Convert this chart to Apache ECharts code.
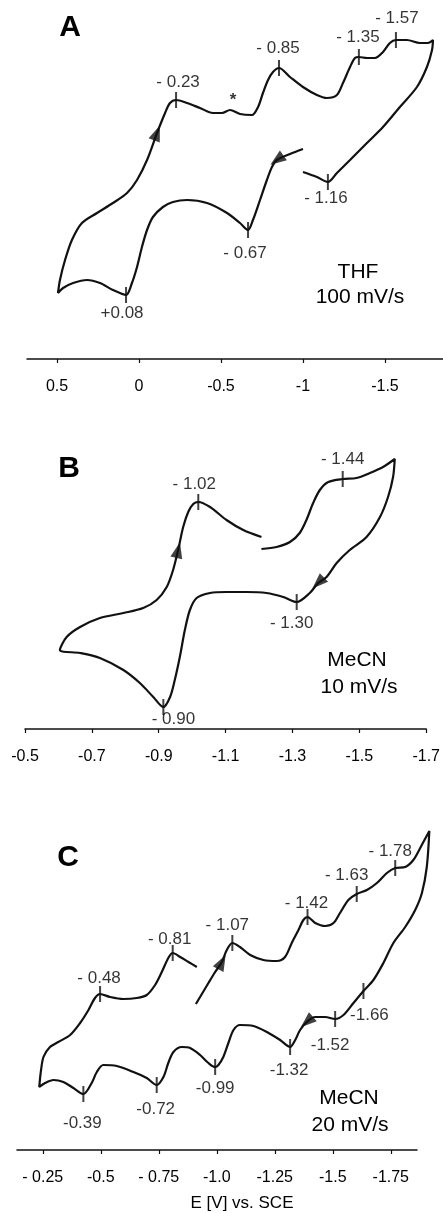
<!DOCTYPE html>
<html>
<head>
<meta charset="utf-8">
<script src="https://cdn.jsdelivr.net/npm/echarts@6/dist/echarts.min.js"></script>
<style>
  html, body { margin: 0; padding: 0; background: #fff; }
  #chart { width: 443px; height: 1213px; }
</style>
</head>
<body>
<div id="chart"></div>
<script>
// cyclic voltammograms, [E in V vs SCE, current in arb. units], in scan order

// A: THF, 100 mV/s
const cvA = [
  [-1.000,21.0],[-0.921,20.5],[-0.841,19.9],[-0.811,19.2],[-0.780,17.9],[-0.738,15.9],[-0.695,13.9],[-0.665,12.9],
  [-0.616,13.6],[-0.537,14.6],[-0.415,15.6],[-0.293,15.9],[-0.207,15.7],[-0.146,15.2],[-0.085,14.2],[-0.049,12.9],
  [-0.018,11.2],[0.012,9.2],[0.043,7.6],[0.079,6.4],[0.159,6.9],[0.238,7.6],[0.317,7.9],[0.402,7.6],
  [0.463,7.1],[0.494,6.6],[0.482,7.9],[0.451,9.9],[0.409,11.9],[0.348,13.6],[0.256,14.6],[0.159,15.6],
  [0.073,16.6],[0.012,17.9],[-0.049,19.9],[-0.110,22.6],[-0.159,24.6],[-0.189,25.6],[-0.226,25.9],[-0.293,25.6],
  [-0.372,25.1],[-0.451,24.6],[-0.506,24.6],[-0.555,24.9],[-0.616,24.5],[-0.689,24.4],[-0.726,25.2],[-0.756,26.6],
  [-0.787,27.9],[-0.817,28.7],[-0.854,29.1],[-0.921,28.2],[-1.000,27.2],[-1.085,26.4],[-1.146,26.1],[-1.207,26.4],
  [-1.244,27.6],[-1.287,29.2],[-1.317,30.1],[-1.341,30.2],[-1.390,30.1],[-1.439,30.1],[-1.488,30.7],[-1.530,31.6],
  [-1.567,31.9],[-1.634,31.9],[-1.713,31.6],[-1.762,31.6],[-1.793,31.9],[-1.787,30.9],[-1.756,29.2],[-1.695,27.2],
  [-1.591,25.2],[-1.488,23.2],[-1.390,21.6],[-1.287,19.9],[-1.207,18.6],[-1.152,17.7],[-1.085,18.2],[-1.000,18.7]
];
// peak marks: [index into curve, label]
const peaksA = [[38,'- 0.23'],[50,'- 0.85'],[59,'- 1.35'],[64,'- 1.57'],[77,'- 1.16'],[7,'- 0.67'],[19,'+0.08']];
const arrowsA = [35, 2];
const starA = [[-0.573, 25.9]];
const ticksA = [0.5, 0, -0.5, -1, -1.5];
const tickTextA = ['0.5', '0', '-0.5', '-1', '-1.5'];

// B: MeCN, 10 mV/s
const cvB = [
  [-1.204,18.0],[-1.249,18.2],[-1.289,18.7],[-1.318,19.6],[-1.338,20.9],[-1.358,22.6],[-1.378,23.9],[-1.403,24.7],
  [-1.446,25.0],[-1.487,25.1],[-1.527,25.6],[-1.566,26.2],[-1.601,27.0],[-1.596,25.2],[-1.581,23.2],[-1.557,21.2],
  [-1.517,19.2],[-1.467,17.9],[-1.428,16.6],[-1.398,15.2],[-1.373,14.6],[-1.348,13.6],[-1.309,12.7],[-1.269,13.2],
  [-1.219,13.6],[-1.160,13.7],[-1.100,13.7],[-1.051,13.6],[-1.011,13.1],[-0.991,11.9],[-0.976,9.9],[-0.961,7.2],
  [-0.946,4.9],[-0.932,3.2],[-0.912,2.2],[-0.882,3.2],[-0.842,4.6],[-0.793,5.9],[-0.723,7.1],[-0.664,7.6],
  [-0.604,7.9],[-0.624,9.2],[-0.664,10.2],[-0.723,11.1],[-0.793,11.6],[-0.852,12.1],[-0.892,12.9],[-0.922,14.2],
  [-0.941,15.9],[-0.956,17.9],[-0.971,20.2],[-0.986,21.7],[-1.001,22.5],[-1.016,22.7],[-1.051,22.2],[-1.100,20.9],
  [-1.150,19.9],[-1.204,19.2]
];
const peaksB = [[8,'- 1.44'],[53,'- 1.02'],[22,'- 1.30'],[34,'- 0.90']];
const arrowsB = [49, 20];
const ticksB = [-0.5, -0.7, -0.9, -1.1, -1.3, -1.5, -1.7];
const tickTextB = ['-0.5', '-0.7', '-0.9', '-1.1', '-1.3', '-1.5', '-1.7'];

// C: MeCN, 20 mV/s
const cvC = [
  [-0.910,14.6],[-0.928,15.3],[-0.964,16.7],[-0.993,17.8],[-1.022,18.8],[-1.043,20.0],[-1.067,20.7],[-1.100,20.3],
  [-1.144,19.5],[-1.201,19.0],[-1.259,18.9],[-1.294,19.3],[-1.323,20.7],[-1.352,22.0],[-1.373,23.0],[-1.391,23.3],
  [-1.424,22.7],[-1.467,22.4],[-1.503,22.7],[-1.531,23.7],[-1.567,25.0],[-1.603,25.6],[-1.647,26.0],[-1.690,26.7],
  [-1.733,27.7],[-1.769,28.2],[-1.812,28.3],[-1.847,29.0],[-1.879,30.3],[-1.902,31.3],[-1.916,31.9],[-1.905,28.3],
  [-1.884,25.7],[-1.855,24.0],[-1.812,22.3],[-1.761,20.7],[-1.718,18.7],[-1.675,17.0],[-1.632,15.9],[-1.589,14.7],
  [-1.546,13.5],[-1.510,13.1],[-1.467,13.3],[-1.424,13.3],[-1.388,12.8],[-1.359,12.0],[-1.338,11.0],[-1.316,10.3],
  [-1.273,11.0],[-1.216,11.8],[-1.158,12.4],[-1.100,12.5],[-1.072,12.0],[-1.050,10.7],[-1.028,9.3],[-1.007,8.5],
  [-0.993,8.3],[-0.964,8.7],[-0.928,9.5],[-0.885,10.2],[-0.849,10.3],[-0.813,9.8],[-0.791,8.7],[-0.770,7.3],
  [-0.741,6.5],[-0.698,7.2],[-0.641,7.8],[-0.569,8.4],[-0.511,8.5],[-0.483,7.8],[-0.461,6.7],[-0.425,5.6],
  [-0.382,6.2],[-0.339,6.8],[-0.296,7.0],[-0.260,6.7],[-0.235,6.3],[-0.241,7.7],[-0.253,9.3],[-0.281,10.3],
  [-0.317,10.8],[-0.368,11.5],[-0.411,12.7],[-0.447,14.0],[-0.475,15.2],[-0.497,15.6],[-0.540,15.3],[-0.597,15.1],
  [-0.655,15.2],[-0.698,15.5],[-0.734,16.5],[-0.763,17.8],[-0.791,19.2],[-0.810,19.7],[-0.842,19.3],[-0.878,18.8],
  [-0.914,18.3]
];
const peaksC = [[85,'- 0.48'],[93,'- 0.81'],[6,'- 1.07'],[15,'- 1.42'],[21,'- 1.63'],[25,'- 1.78'],
                [38,'-1.66'],[41,'-1.52'],[47,'-1.32'],[56,'-0.99'],[64,'-0.72'],[71,'-0.39']];
const arrowsC = [4, 44];
const ticksC = [-0.25, -0.5, -0.75, -1.0, -1.25, -1.5, -1.75];
const tickTextC = ['- 0.25', '-0.5', '- 0.75', '-1.0', '-1.25', '-1.5', '-1.75'];

// label placement [side, dx, dy] for each peak, same order as the peaks lists
const lblA = [['top',2,0],['top',-1,-2],['top',-1,-2],['top',1,-4],['bottom',-2,-2],['bottom',-3,5],['bottom',-4,0]];
const lblB = [['top',0,-2],['top',-4,0],['bottom',-5,3],['bottom',10,-6]];
const lblC = [['top',-1,2],['top',-3,4],['top',-5,0],['top',-1,4],['top',-10,-1],['top',-5,1],
              ['bottom',6,6],['bottom',-5,8],['bottom',-1,5],['bottom',0,3],['bottom',-1,6],['bottom',-1,11]];

const FONT = "'Liberation Sans', Arial, Helvetica, sans-serif";
const INK = '#111';

// axis: the drawn axis; plot: a hidden axis of identical scale that may run past the drawn one
const panels = [
  { curve: cvA, peaks: peaksA, lbl: lblA, arrows: arrowsA, ticks: ticksA, tickText: tickTextA,
    grid: { left: 27, right: 0, top: 9, bottom: 854 }, xmin: -1.854, xmax: 0.683, ymax: 35,
    plotRight: 0, plotMin: -1.854 },
  { curve: cvB, peaks: peaksB, lbl: lblB, arrows: arrowsB, ticks: ticksB, tickText: tickTextB,
    grid: { left: 25, right: 15, top: 429, bottom: 484 }, xmin: -1.7, xmax: -0.5, ymax: 30,
    plotRight: 15, plotMin: -1.7 },
  { curve: cvC, peaks: peaksC, lbl: lblC, arrows: arrowsC, ticks: ticksC, tickText: tickTextC,
    grid: { left: 17, right: 26, top: 800, bottom: 63 }, xmin: -1.863, xmax: -0.139, ymax: 35,
    plotRight: 6, plotMin: -1.949 }
];

const chart = echarts.init(document.getElementById('chart'));

const grids = [], xAxes = [], yAxes = [], series = [];
const N = panels.length;
panels.forEach((p, k) => {
  grids[k] = p.grid;
  grids[N + k] = Object.assign({}, p.grid, { right: p.plotRight });
  xAxes[k] = {
    type: 'value', gridIndex: k, inverse: true, min: p.xmin, max: p.xmax,
    splitLine: { show: false },
    axisLine: { show: true, lineStyle: { color: INK, width: 1.5 } },
    axisTick: { show: true, length: 4, lineStyle: { color: INK, width: 1.2 }, customValues: p.ticks },
    axisLabel: {
      customValues: p.ticks, margin: 20, color: '#000', fontSize: 16, fontFamily: FONT,
      formatter: v => {
        const j = p.ticks.findIndex(t => Math.abs(t - v) < 1e-6);
        return j >= 0 ? p.tickText[j] : '';
      }
    }
  };
  xAxes[N + k] = { type: 'value', gridIndex: N + k, inverse: true, min: p.plotMin, max: p.xmax, show: false };
  yAxes[k] = { type: 'value', gridIndex: k, min: 0, max: p.ymax, show: false };
  yAxes[N + k] = { type: 'value', gridIndex: N + k, min: 0, max: p.ymax, show: false };

  const g = N + k;
  series.push({
    type: 'line', xAxisIndex: g, yAxisIndex: g, data: p.curve,
    smooth: 0.3, symbol: 'none', clip: false,
    lineStyle: { color: INK, width: 2.2 }, silent: true, animation: false
  });
  series.push({
    type: 'scatter', xAxisIndex: g, yAxisIndex: g, symbol: 'rect', symbolSize: [2, 16],
    itemStyle: { color: INK }, silent: true, animation: false, clip: false,
    data: p.peaks.map(([idx, txt], j) => ({
      value: p.curve[idx], name: txt,
      label: { position: p.lbl[j][0], offset: [p.lbl[j][1], p.lbl[j][2]] }
    })),
    label: {
      show: true, distance: 2, formatter: d => d.name, color: '#000',
      fontSize: 17, lineHeight: 16, fontFamily: FONT
    }
  });
  series.push({
    id: 'arrows' + k, type: 'scatter', xAxisIndex: g, yAxisIndex: g,
    symbol: 'triangle', symbolSize: [12, 16], itemStyle: { color: INK },
    silent: true, animation: false, data: p.arrows.map(j => p.curve[j])
  });
});

// asterisk marking the shoulder in A
series.push({
  type: 'scatter', xAxisIndex: N, yAxisIndex: N, data: starA, symbolSize: 0, silent: true,
  label: { show: true, position: 'inside', formatter: '*', fontSize: 17, fontWeight: 'bold', color: '#000', fontFamily: FONT }
});

const txt = (x, y, s, size, bold) => ({
  type: 'text', x: x, y: y,
  style: { text: s, fontSize: size, fontWeight: bold ? 'bold' : 'normal', fontFamily: FONT,
           fill: '#000', align: 'center', verticalAlign: 'middle' }
});

chart.setOption({
  backgroundColor: '#fff',
  animation: false,
  grid: grids, xAxis: xAxes, yAxis: yAxes, series: series,
  graphic: [
    txt(70, 28, 'A', 30, true),
    txt(69, 469, 'B', 30, true),
    txt(68, 858, 'C', 30, true),
    txt(358, 272, 'THF', 21),
    txt(360, 297, '100 mV/s', 21),
    txt(357, 660, 'MeCN', 21),
    txt(359, 687, '10 mV/s', 21),
    txt(349, 1098, 'MeCN', 21),
    txt(350, 1125, '20 mV/s', 21),
    txt(242, 1203, 'E [V] vs. SCE', 17)
  ]
});

// orient the scan-direction arrows along the curve
const upd = panels.map((p, k) => ({
  id: 'arrows' + k,
  data: p.arrows.map(j => {
    const a = chart.convertToPixel({ gridIndex: N + k }, p.curve[j - 1]);
    const b = chart.convertToPixel({ gridIndex: N + k }, p.curve[j + 1]);
    const ang = Math.atan2(a[1] - b[1], b[0] - a[0]) * 180 / Math.PI - 90;
    return { value: p.curve[j], symbolRotate: ang };
  })
}));
chart.setOption({ series: upd });
</script>
</body>
</html>
